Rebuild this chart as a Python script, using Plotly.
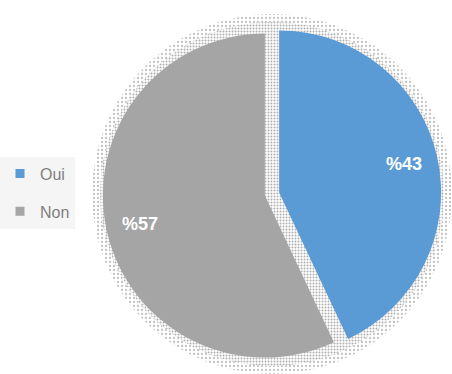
import math
import plotly.graph_objects as go

# Survey answers
labels = ["Oui", "Non"]
values = [43, 57]
colors = ["#5B9BD5", "#A5A5A5"]
text_labels = ["%43", "%57"]

W, H = 452, 374
cx, cy = 272, 194          # pie centre in pixels (measured from the top)
R = 162                    # pie radius in pixels
pull = 0.045               # explosion of each slice (fraction of radius)


def square_domain(radius):
    """Domain (paper units) of a square box of the given half-size around the centre."""
    return dict(x=[(cx - radius) / W, (cx + radius) / W],
                y=[(H - cy - radius) / H, (H - cy + radius) / H])


fig = go.Figure()

# soft dotted shadow around the pie: two patterned discs
for rad, fg, size, solid in [(180, "#C4C4C4", 4, 0.25), (172, "#AFAFAF", 3, 0.34)]:
    fig.add_trace(go.Pie(
        values=[1], labels=["shadow"], domain=square_domain(rad),
        marker=dict(colors=["white"], line=dict(width=0),
                    pattern=dict(shape=".", fgcolor=fg, bgcolor="white",
                                 size=size, solidity=solid)),
        textinfo="none", hoverinfo="skip", showlegend=False, sort=False,
    ))

fig.add_trace(go.Pie(
    labels=labels, values=values, sort=False, direction="clockwise", rotation=0,
    pull=[pull] * len(values), domain=square_domain(R * (1 + pull)),
    marker=dict(colors=colors, line=dict(width=0)),
    textinfo="none", hoverinfo="label+percent", showlegend=False,
))

# legend entries (one group per answer so they can be spaced apart)
for lab, col in zip(labels, colors):
    fig.add_trace(go.Scatter(
        x=[None], y=[None], mode="markers", name=lab, legendgroup=lab,
        marker=dict(symbol="square", size=9, color=col, line=dict(width=0)),
    ))

# percentage labels placed along each slice's bisector
total = sum(values)
start = 0.0
annotations = []
for v, t in zip(values, text_labels):
    theta = math.radians((start + v / 2) / total * 360)
    r_txt = pull * R + 0.79 * R
    px = cx + r_txt * math.sin(theta)
    py = cy - r_txt * math.cos(theta)
    annotations.append(dict(
        x=px / W, y=1 - py / H, xref="paper", yref="paper",
        xanchor="center", yanchor="middle", text=f"<b>{t}</b>",
        showarrow=False, font=dict(family="Liberation Sans, Arial", size=18, color="white"),
    ))
    start += v

fig.update_layout(
    width=W, height=H,
    margin=dict(l=0, r=0, t=0, b=0),
    paper_bgcolor="white", plot_bgcolor="white",
    xaxis=dict(visible=False), yaxis=dict(visible=False),
    annotations=annotations,
    legend=dict(x=0.0, y=0.485, xanchor="left", yanchor="middle",
                bgcolor="#F5F5F5", borderwidth=0, tracegroupgap=14,
                traceorder="grouped",
                font=dict(family="Liberation Sans, Arial", size=16, color="#7F7F7F")),
)

fig.write_html("out.html")
